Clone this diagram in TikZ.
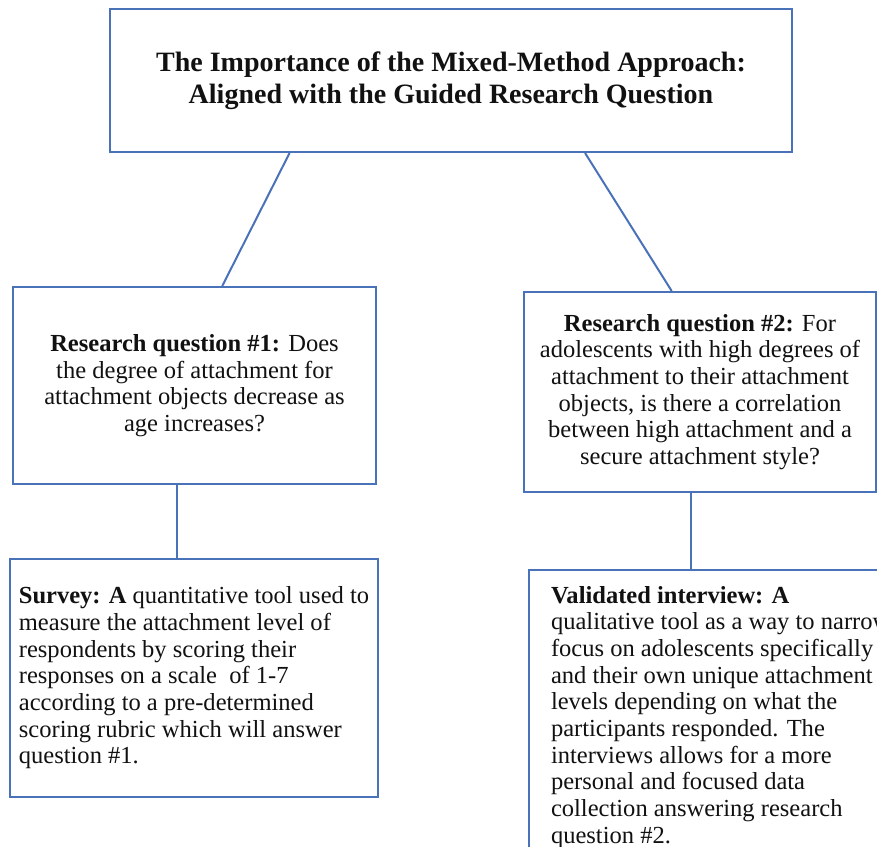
\documentclass[tikz,border=0pt]{standalone}
\usepackage{fontspec}
\setmainfont{Liberation Serif}
\usetikzlibrary{calc}
\definecolor{rim}{HTML}{4A72B8}
\definecolor{ink}{HTML}{111111}
\tikzset{
  qbox/.style={draw=rim,line width=1.5pt,fill=white,align=center,text=ink,
               font=\fontsize{18.4}{20}\selectfont,inner sep=0pt},
  link/.style={draw=rim,line width=1.5pt},
}

\begin{document}
\begin{tikzpicture}[x=0.75pt,y=-0.75pt]
  \useasboundingbox (0,0) rectangle (877,846);
  \clip (0,0) rectangle (877,846);

  % ---------------------------------------------------------------- top
  \node[qbox,minimum width=511.5pt,minimum height=107.25pt,
        font=\fontsize{21}{24}\selectfont\bfseries] (title) at (451,80.5)
       {The Importance of the Mixed-Method Approach:\\Aligned with the Guided Research Question};

  % ---------------------------------------------------------------- questions
  \node[qbox,minimum width=272.25pt,minimum height=147.75pt] (rq1) at (194.5,385.5)
       {\textbf{Research question \#1:} Does\\the degree of attachment for\\attachment objects decrease as\\age increases?};
  \node[qbox,minimum width=264pt,minimum height=150pt] (rq2) at (700,392)
       {\textbf{Research question \#2:} For\\adolescents with high degrees of\\attachment to their attachment\\objects, is there a correlation\\between high attachment and a\\secure attachment style?};

  % ---------------------------------------------------------------- methods
  \node[qbox,align=left,minimum width=276pt,minimum height=178.5pt] (survey) at (194,678)
       {\textbf{Survey: A} quantitative tool used to\\measure the attachment level of\\respondents by scoring their\\responses on a scale\ \ of 1-7\\according to a pre-determined\\scoring rubric which will answer\\question \#1.};
  \node[qbox,align=left,anchor=north west,inner xsep=16.5pt,inner ysep=12pt] (interview) at (528,569)
       {\textbf{Validated interview: A}\\qualitative tool as a way to narrow\\focus on adolescents specifically\\and their own unique attachment\\levels depending on what the\\participants responded. The\\interviews allows for a more\\personal and focused data\\collection answering research\\question \#2.};

  % ---------------------------------------------------------------- links
  \draw[link] ($(title.south west)!0.264!(title.south east)$) -- ($(rq1.north west)!0.576!(rq1.north east)$);
  \draw[link] ($(title.south west)!0.696!(title.south east)$) -- ($(rq2.north west)!0.42!(rq2.north east)$);
  \coordinate (d1) at ($(rq1.south west)!0.452!(rq1.south east)$);
  \coordinate (d2) at ($(rq2.south west)!0.474!(rq2.south east)$);
  \draw[link] (d1) -- (d1 |- survey.north);
  \draw[link] (d2) -- (d2 |- interview.north);
\end{tikzpicture}
\end{document}
